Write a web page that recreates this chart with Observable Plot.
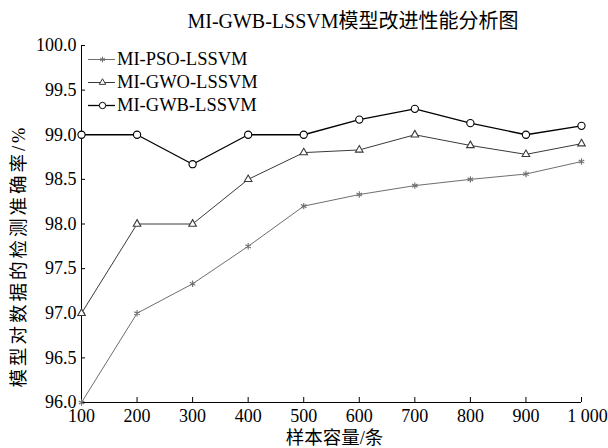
<!DOCTYPE html>
<html>
<head>
<meta charset="utf-8">
<script src="https://cdn.jsdelivr.net/npm/d3@7"></script>
<script src="https://cdn.jsdelivr.net/npm/@observablehq/plot@0.6"></script>
<style>
  body { margin: 0; background: #fff; }
  #wrap { position: relative; width: 608px; height: 448px; }
  #legend { position: absolute; left: 88px; top: 48px; font-family: "Liberation Serif", "Noto Sans CJK SC", serif; font-size: 18.5px; color: #000; }
  .row { display: flex; align-items: center; height: 23px; }
  .row svg { display: block; }
  #ylabel { position: absolute; left: 18.5px; top: 256px; transform: translate(-50%, -50%) rotate(-90deg); white-space: nowrap;
            font-family: "Liberation Serif", "Noto Sans CJK SC", serif; font-size: 18.5px; letter-spacing: 3px; line-height: 1; color: #000; }
</style>
</head>
<body>
<div id="wrap"><div id="legend"></div><div id="ylabel"></div></div>
<script>
const sampleSizes = [100, 200, 300, 400, 500, 600, 700, 800, 900, 1000];
const seriesNames = ["MI-PSO-LSSVM", "MI-GWO-LSSVM", "MI-GWB-LSSVM"];
const psoValues = [96.0, 97.0, 97.33, 97.75, 98.2, 98.33, 98.43, 98.5, 98.56, 98.7];
const gwoValues = [97.0, 98.0, 98.0, 98.5, 98.8, 98.83, 99.0, 98.88, 98.78, 98.9];
const gwbValues = [99.0, 99.0, 98.67, 99.0, 99.0, 99.17, 99.29, 99.13, 99.0, 99.1];
const yTicks = [96.0, 96.5, 97.0, 97.5, 98.0, 98.5, 99.0, 99.5, 100.0];
const titleText = "MI-GWB-LSSVM模型改进性能分析图";
const xLabel = "样本容量/条";
const yLabel = "模型对数据的检测准确率/%";

const styles = {
  "MI-PSO-LSSVM": {color: "#6e6e6e", width: 1, symbol: "asterisk", r: 3, lr: 2.6, sym: d3.symbolAsterisk},
  "MI-GWO-LSSVM": {color: "#3a3a3a", width: 1, symbol: "triangle", r: 2.8, lr: 2.4, sym: d3.symbolTriangle},
  "MI-GWB-LSSVM": {color: "#000000", width: 1.3, symbol: "circle", r: 3.6, lr: 3.2, sym: d3.symbolCircle}
};

const valueLists = [psoValues, gwoValues, gwbValues];
const data = [];
seriesNames.forEach((name, i) => {
  sampleSizes.forEach((x, j) => data.push({series: name, x, y: valueLists[i][j]}));
});

const fmtGroup = d3.formatLocale({decimal: ".", thousands: " ", grouping: [3], currency: ["", ""]}).format(",");
const lastX = sampleSizes[sampleSizes.length - 1];
const font = "\"Liberation Serif\", \"Noto Sans CJK SC\", serif";

const marks = [
  Plot.ruleX([sampleSizes[0]], {stroke: "#000", strokeWidth: 1}),
  Plot.ruleY([yTicks[0]], {stroke: "#000", strokeWidth: 1}),
  Plot.axisX({ticks: sampleSizes, tickFormat: d => d === lastX ? "" : fmtGroup(d), tickSize: -5, tickPadding: 12, fontSize: 18, label: null}),
  Plot.axisX({ticks: [lastX], tickFormat: fmtGroup, tickSize: 0, tickPadding: 7, dx: 6, fontSize: 18, label: null}),
  Plot.axisY({ticks: yTicks, tickFormat: d3.format(".1f"), tickSize: -4, tickPadding: 9, fontSize: 18, label: null}),
  Plot.text([xLabel], {frameAnchor: "bottom", dx: 3, dy: 36, fontSize: 18.5, lineAnchor: "middle", fill: "#000"}),
  Plot.text([titleText], {frameAnchor: "top", dx: 21.5, dy: -24, fontSize: 20, lineAnchor: "middle", fill: "#000"})
];
seriesNames.forEach(name => {
  const s = styles[name];
  const d = data.filter(e => e.series === name);
  marks.push(Plot.line(d, {x: "x", y: "y", stroke: s.color, strokeWidth: s.width}));
  marks.push(Plot.dot(d, {x: "x", y: "y", symbol: () => s.symbol, r: s.r, stroke: s.color, fill: s.symbol === "asterisk" ? "none" : "white", strokeWidth: 1.1}));
});

const chart = Plot.plot({
  width: 608,
  height: 448,
  marginLeft: 81,
  marginRight: 27,
  marginTop: 45,
  marginBottom: 46,
  style: {fontFamily: font, fontSize: "18px", color: "#000", background: "#fff"},
  x: {domain: [sampleSizes[0], lastX], type: "linear"},
  y: {domain: [yTicks[0], yTicks[yTicks.length - 1]]},
  symbol: {type: "identity"},
  marks
});
document.getElementById("wrap").prepend(chart);
document.getElementById("ylabel").textContent = yLabel;

const legend = document.getElementById("legend");
seriesNames.forEach(name => {
  const s = styles[name];
  const row = document.createElement("div");
  row.className = "row";
  const svg = d3.create("svg").attr("width", 29).attr("height", 23);
  svg.append("line").attr("x1", 0).attr("x2", 27).attr("y1", 11.5).attr("y2", 11.5)
    .attr("stroke", s.color).attr("stroke-width", s.width);
  svg.append("path").attr("transform", "translate(14.5,11.5)")
    .attr("d", d3.symbol(s.sym, Math.PI * s.lr * s.lr)())
    .attr("stroke", s.color).attr("fill", s.symbol === "asterisk" ? "none" : "white").attr("stroke-width", 1);
  row.appendChild(svg.node());
  const t = document.createElement("span");
  t.textContent = name;
  row.appendChild(t);
  legend.appendChild(row);
});
</script>
</body>
</html>
